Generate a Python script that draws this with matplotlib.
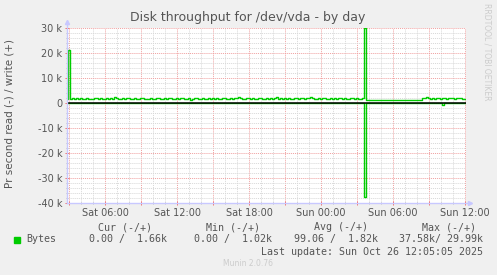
import numpy as np
import matplotlib.pyplot as plt
from matplotlib.ticker import MultipleLocator, FixedLocator

# munin "diskstats throughput" for /dev/vda, by day
# time in hours from Sat 00:00, 10 min samples from Sat 02:50
t_start = 2 + 50 / 60.0
t_step = 10 / 60.0

# write bytes per second (k)
write_k = [1.6, 21.2, 1.7, 1.9, 1.8, 2.0, 1.8, 1.9, 1.7, 1.8,
           1.9, 1.8, 1.7, 1.8, 1.9, 2.0, 1.8, 1.9, 1.8, 1.7,
           1.9, 1.8, 2.0, 1.7, 2.6, 1.9, 1.8, 1.6, 1.9, 1.8,
           2.0, 1.9, 1.7, 1.8, 1.9, 1.7, 1.8, 2.1, 1.9, 1.8,
           1.6, 1.8, 1.9, 1.8, 1.7, 2.0, 1.9, 1.8, 1.7, 1.9,
           1.8, 2.0, 1.9, 1.7, 1.8, 1.9, 1.8, 2.0, 1.9, 1.7,
           1.8, 1.9, 1.2, 1.8, 2.0, 2.2, 1.8, 1.7, 1.9, 1.8,
           1.7, 1.9, 1.8, 2.0, 1.8, 1.9, 1.7, 1.8, 2.2, 1.9,
           1.8, 1.7, 1.9, 1.8, 2.0, 1.9, 2.3, 2.1, 1.8, 1.7,
           1.9, 2.0, 1.8, 1.9, 1.7, 1.8, 2.0, 1.9, 1.8, 1.7,
           1.9, 1.8, 2.0, 1.8, 1.9, 2.4, 1.8, 1.9, 1.7, 2.0,
           1.8, 1.9, 1.8, 1.7, 1.9, 2.0, 1.8, 1.9, 2.1, 1.8,
           1.9, 2.0, 2.4, 1.9, 1.8, 1.7, 1.9, 1.8, 2.0, 1.9,
           1.8, 1.7, 1.9, 1.8, 2.0, 1.8, 1.9, 2.1, 1.8, 1.9,
           1.7, 1.8, 1.9, 2.0, 1.8, 1.9, 1.7, 1.8, 1.9, 29.99,
           1.2, 1.1, 1.2, 1.3, 1.2, 1.1, 1.2, 1.3, 1.2, 1.1,
           1.2, 1.3, 1.2, 1.1, 1.2, 1.3, 1.2, 1.1, 1.2, 1.3,
           1.2, 1.1, 1.2, 1.3, 1.2, 1.4, 1.2, 1.3, 2.2, 1.9,
           2.3, 2.0, 1.8, 2.1, 1.7, 1.9, 2.0, 1.8, 2.2, 1.9,
           1.8, 2.0, 2.1, 1.9, 1.8, 2.0, 2.1, 1.9, 1.8, 1.7]

# read bytes per second (k), drawn negative
read_k = [0.0] * len(write_k)
read_k[149] = 37.58
read_k[188] = 0.6

xtick_hours = [3, 6, 9, 12, 15, 18, 21, 24, 27, 30, 33, 36]
xtick_labels = ['', 'Sat 06:00', '', 'Sat 12:00', '', 'Sat 18:00', '',
                'Sun 00:00', '', 'Sun 06:00', '', 'Sun 12:00']
ytick_vals = [-40000, -30000, -20000, -10000, 0, 10000, 20000, 30000]
ytick_labels = ['-40 k', '-30 k', '-20 k', '-10 k', '0', '10 k', '20 k', '30 k']

hours = t_start + t_step * np.arange(len(write_k))
write = np.array(write_k) * 1000
read = -np.array(read_k) * 1000

W, H = 497, 275
fig = plt.figure(figsize=(W / 100, H / 100), dpi=100, facecolor='#F0F0F0')
ax = fig.add_axes([67 / W, 1 - 203 / H, (466 - 67) / W, (203 - 28) / H])
ax.set_facecolor('white')

green = '#00CC00'
ax.plot(hours, write, color=green, lw=1, drawstyle='steps-mid', zorder=3)
ax.plot(hours, read, color=green, lw=1, drawstyle='steps-mid', zorder=3)
ax.axhline(0, color='black', lw=1.1, zorder=4)

ax.set_xlim(t_start, 36 + 5 / 60.0)
ax.set_ylim(-40000, 30000)

ax.xaxis.set_major_locator(FixedLocator(xtick_hours))
ax.set_xticklabels(xtick_labels)
ax.xaxis.set_minor_locator(MultipleLocator(1))
ax.set_yticks(ytick_vals)
ax.set_yticklabels(ytick_labels)
ax.yaxis.set_minor_locator(MultipleLocator(2000))

ax.grid(which='minor', color='#D8D8D8', ls=(0, (1, 1)), lw=0.7)
ax.grid(which='major', color='#F0A0A0', ls=(0, (1, 1)), lw=0.7)
ax.set_axisbelow(True)

ax.tick_params(which='major', direction='inout', length=3, width=0.7,
               color='#F07070', labelsize=7, labelcolor='#555555', pad=2)
ax.tick_params(which='minor', direction='inout', length=2, width=0.7,
               color='#BBBBBB')
for s in ax.spines.values():
    s.set_visible(False)

# axes with arrows
axis_c = '#C8C8FF'
ax.plot([0, 0], [0, 1.03], transform=ax.transAxes, color=axis_c, lw=1, clip_on=False, zorder=5)
ax.plot([0, 1.01], [0, 0], transform=ax.transAxes, color=axis_c, lw=1, clip_on=False, zorder=5)
ax.plot([0], [1.035], marker='^', ms=3, color=axis_c, transform=ax.transAxes, clip_on=False)
ax.plot([1.01], [0], marker='>', ms=3, color=axis_c, transform=ax.transAxes, clip_on=False)

fig.text(248 / W, 1 - 17 / H, 'Disk throughput for /dev/vda - by day', ha='center', va='center',
         fontsize=9, color='#555555')
fig.text(10 / W, 1 - 114 / H, 'Pr second read (-) / write (+)', rotation=90, ha='center',
         va='center', fontsize=7.5, color='#555555')
fig.text(487 / W, 1 - 52 / H, 'RRDTOOL / TOBI OETIKER', rotation=270, ha='center', va='center',
         fontsize=5.5, color='#CCCCCC')

mono = dict(family='DejaVu Sans Mono', fontsize=7.2, color='#555555', va='center')
for cx, head in [(124.7, 'Cur (-/+)'), (233, 'Min (-/+)'), (341, 'Avg (-/+)'), (449, 'Max (-/+)')]:
    fig.text(cx / W, 1 - 227.3 / H, head, ha='center', **mono)
fig.add_artist(plt.Rectangle((14 / W, 1 - 242.5 / H), 6 / W, 6 / H, color=green,
                             transform=fig.transFigure))
fig.text(26.7 / W, 1 - 239.3 / H, 'Bytes', ha='left', **mono)
for rx, val in [(166.7, '0.00 /  1.66k'), (272, '0.00 /  1.02k'),
                (377.7, '99.06 /  1.82k'), (482.7, '37.58k/ 29.99k')]:
    fig.text(rx / W, 1 - 239.3 / H, val, ha='right', **mono)
fig.text(482.7 / W, 1 - 251.7 / H, 'Last update: Sun Oct 26 12:05:05 2025', ha='right', **mono)
fig.text(248 / W, 1 - 264 / H, 'Munin 2.0.76', ha='center', va='center', fontsize=5.5,
         color='#CCCCCC')

fig.savefig('out.png', dpi=100, facecolor=fig.get_facecolor())
